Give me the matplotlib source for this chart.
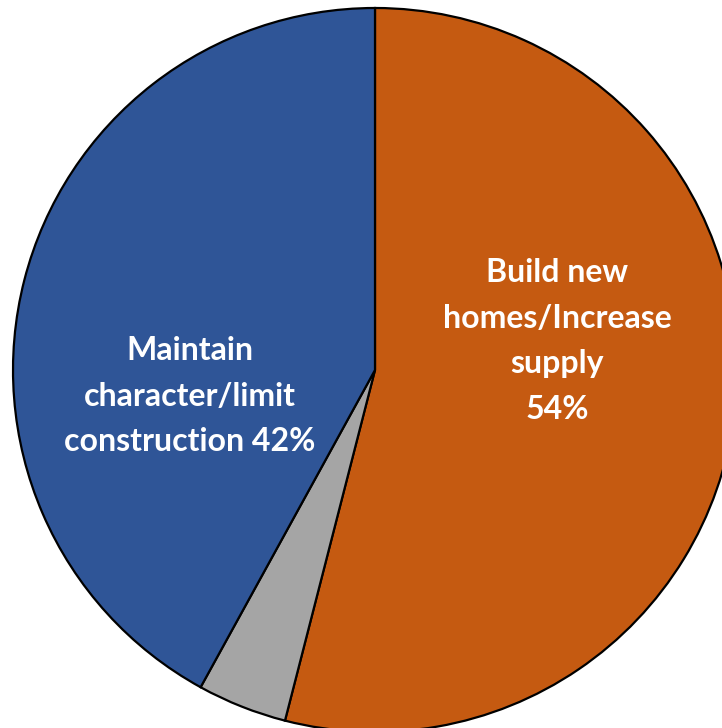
import matplotlib
matplotlib.use("Agg")
import matplotlib.pyplot as plt

# Survey split on housing priorities
categories = ["Build new\nhomes/Increase\nsupply\n54%", "", "Maintain\ncharacter/limit\nconstruction 42%"]
shares = [54, 4, 42]
colors = ["#C55A11", "#A5A5A5", "#2F5597"]

W, H = 722, 728
fig = plt.figure(figsize=(W / 100, H / 100), dpi=100)
ax = fig.add_axes([0, 0, 1, 1])

cx, cy, r = 375, H - 370, 362
wedges, _ = ax.pie(
    shares,
    colors=colors,
    startangle=90,
    counterclock=False,
    center=(cx, cy),
    radius=r,
    frame=True,
    wedgeprops=dict(edgecolor="black", linewidth=1.6),
)
ax.set_xlim(0, W)
ax.set_ylim(0, H)
ax.set_aspect("equal")
ax.axis("off")

font = dict(family=["Lato", "DejaVu Sans"], weight="bold", color="white",
            fontsize=23, ha="center", va="center", linespacing=1.7,
            multialignment="center")
ax.text(557, H - 341, categories[0], **font)
ax.text(190, H - 396, categories[2], **font)

fig.savefig("out.png", dpi=100)
